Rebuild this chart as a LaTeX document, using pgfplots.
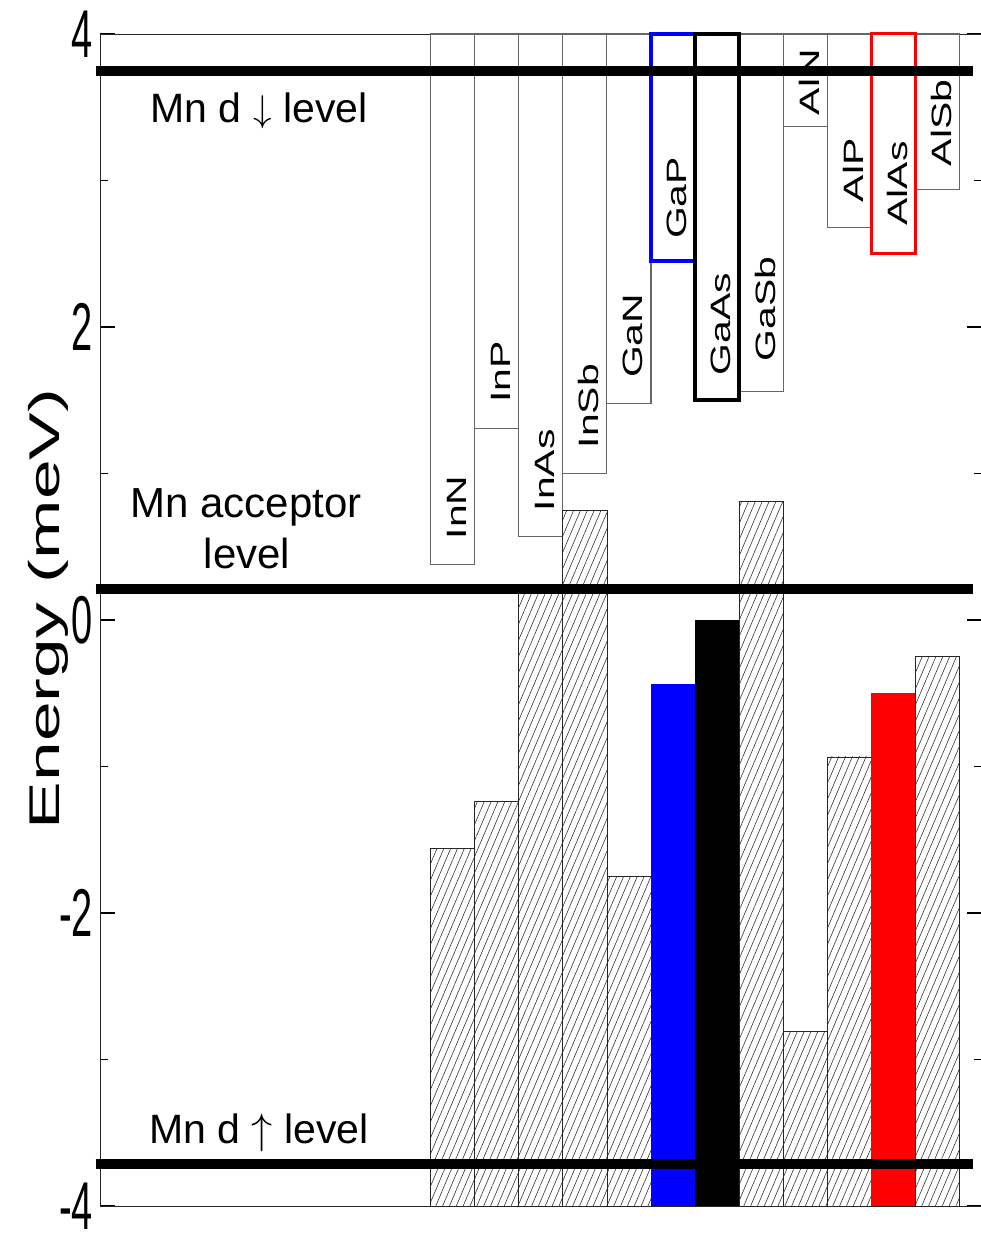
\documentclass[border=0pt]{standalone}
\usepackage{pgfplots}
\pgfplotsset{compat=1.18}
\usepackage{fontspec}
\setmainfont{Liberation Sans}
\usepackage{graphicx}
\usetikzlibrary{patterns.meta}

% valence bar: left, right, top, style   (from -4 up to top)
\newcommand{\vbar}[4]{\addplot[#4] coordinates {(#1,-4) (#1,#3) (#2,#3) (#2,-4)} -- cycle;}
% conduction bar: left, right, bottom, style (from bottom up to 4)
\newcommand{\cbar}[4]{\addplot[#4] coordinates {(#1,4) (#1,#3) (#2,#3) (#2,4)} -- cycle;}
% rotated bar label: x, bottom, gap, text
\newcommand{\blabel}[4]{\node[rotate=90, anchor=west, inner sep=0pt, font=\fontsize{28}{30}\selectfont] at ([xshift=4pt,yshift=#3]axis cs:#1,#2) {\scalebox{1.46}[1]{#4}};}
\newcommand{\tl}[1]{\scalebox{1}[1.78]{#1}}

\pgfplotsset{
  hatch/.style={draw=black!85, line width=0.8pt, pattern={Lines[angle=67,distance=6.3pt,line width=0.6pt]}, pattern color=black!80},
  cond/.style={draw=black!60, line width=1.1pt, fill=white},
}

\begin{document}
\begin{tikzpicture}
\path[use as bounding box] (-100pt,-27pt) rectangle (881pt,1206pt);
\begin{axis}[
  scale only axis, width=881.6pt, height=1172pt,
  xmin=-8, xmax=12, ymin=-4, ymax=4,
  clip=false,
  xtick=\empty,
  ytick={-4,-2,0,2,4},
  yticklabels={\tl{-4},\tl{-2},\tl{0},\tl{2},\tl{4}},
  minor ytick={-3,-1,1,3},
  ytick pos=both, yticklabel pos=left,
  tick align=inside,
  major tick length=15pt, minor tick length=8pt,
  every tick/.style={black, line width=1.2pt},
  axis line style={black!85, line width=0.9pt},
  yticklabel style={font=\fontsize{38}{38}\selectfont, inner sep=0pt, xshift=-7pt},
  ylabel={\scalebox{1.66}[1]{Energy (meV)}},
  ylabel style={font=\fontsize{43}{43}\selectfont, at={(axis description cs:-0.0465,0.5094)}, anchor=base},
]
% conduction bands (bottom edge)
\cbar{-0.5}{0.5}{0.38}{cond}   % InN
\cbar{0.5}{1.5}{1.31}{cond}    % InP
\cbar{1.5}{2.5}{0.57}{cond}    % InAs
\cbar{2.5}{3.5}{1.00}{cond}    % InSb
\cbar{3.5}{4.5}{1.48}{cond}    % GaN
\cbar{6.5}{7.5}{1.56}{cond}    % GaSb
\cbar{7.5}{8.5}{3.37}{cond}    % AlN
\cbar{8.5}{9.5}{2.68}{cond}    % AlP
\cbar{10.5}{11.5}{2.94}{cond}  % AlSb
\cbar{4.5}{5.5}{2.45}{draw=blue, line width=3.5pt, fill=white}   % GaP
\cbar{9.5}{10.5}{2.50}{draw=red, line width=3pt, fill=white}     % AlAs
\cbar{5.5}{6.5}{1.50}{draw=black, line width=4pt, fill=white}    % GaAs
% valence bands (top edge)
\vbar{-0.5}{0.5}{-1.56}{hatch}   % InN
\vbar{0.5}{1.5}{-1.24}{hatch}    % InP
\vbar{1.5}{2.5}{0.20}{hatch}     % InAs
\vbar{2.5}{3.5}{0.75}{hatch}     % InSb
\vbar{3.5}{4.5}{-1.75}{hatch}    % GaN
\vbar{4.5}{5.5}{-0.44}{fill=blue, draw=none}   % GaP
\vbar{5.5}{6.5}{0.00}{fill=black, draw=none}   % GaAs
\vbar{6.5}{7.5}{0.81}{hatch}     % GaSb
\vbar{7.5}{8.5}{-2.81}{hatch}    % AlN
\vbar{8.5}{9.5}{-0.935}{hatch}   % AlP
\vbar{9.5}{10.5}{-0.50}{fill=red, draw=none}   % AlAs
\vbar{10.5}{11.5}{-0.25}{hatch}  % AlSb
% labels
\blabel{0}{0.38}{25pt}{InN}
\blabel{1}{1.31}{25pt}{InP}
\blabel{2}{0.57}{25pt}{InAs}
\blabel{3}{1.00}{25pt}{InSb}
\blabel{4}{1.48}{25pt}{GaN}
\blabel{5}{2.45}{22pt}{GaP}
\blabel{6}{1.50}{25pt}{GaAs}
\blabel{7}{1.56}{30pt}{GaSb}
\blabel{8}{3.37}{11pt}{AlN}
\blabel{9}{2.68}{25pt}{AlP}
\blabel{10}{2.50}{28pt}{AlAs}
\blabel{11}{2.94}{23pt}{AlSb}
% Mn levels
\addplot[black, line width=10pt] coordinates {(-8.1,3.75) (11.8,3.75)};
\addplot[black, line width=10pt] coordinates {(-8.1,0.21) (11.8,0.21)};
\addplot[black, line width=10pt] coordinates {(-8.1,-3.71) (11.8,-3.71)};
\end{axis}
\node[anchor=base, font=\fontsize{41}{41}\selectfont] at (159pt,1083.5pt) {Mn d \raisebox{1pt}{\scalebox{1.5}{$\downarrow$}} level};
\node[anchor=base, font=\fontsize{42}{42}\selectfont] at (146pt,688pt) {Mn acceptor};
\node[anchor=base, font=\fontsize{42}{42}\selectfont] at (147pt,637pt) {level};
\node[anchor=base, font=\fontsize{41}{41}\selectfont] at (159pt,62pt) {Mn d \scalebox{1.7}{$\uparrow$} level};
\end{tikzpicture}
\end{document}
